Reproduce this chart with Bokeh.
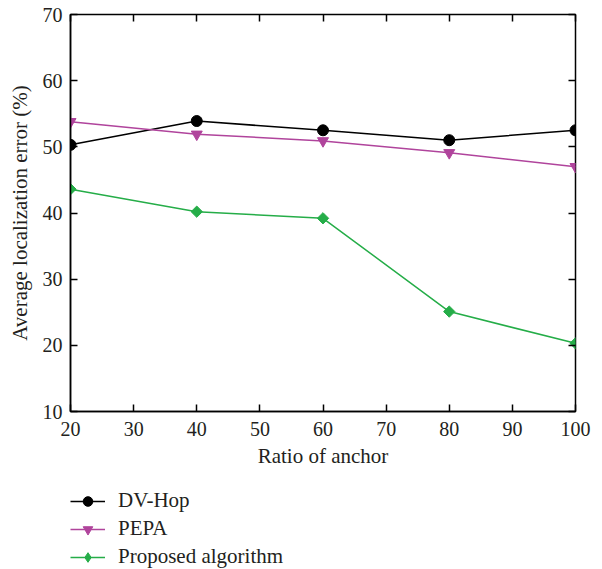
import math
from bokeh.plotting import figure
from bokeh.layouts import column
from bokeh.models import LinearAxis, Legend, LegendItem, Range1d, FixedTicker
from bokeh.embed import file_html
from bokeh.resources import INLINE

# Localization error versus the ratio of anchor nodes
anchor_ratio = [20, 40, 60, 80, 100]
dv_hop = [50.3, 53.9, 52.5, 51.0, 52.5]
pepa = [53.8, 51.9, 50.9, 49.1, 47.0]
proposed = [43.6, 40.2, 39.2, 25.1, 20.3]

x_ticks = [20, 30, 40, 50, 60, 70, 80, 90, 100]
y_ticks = [10, 20, 30, 40, 50, 60, 70]

FONT = "Liberation Serif"
TEXT = "#231f20"
C_DV = "#000000"
C_PEPA = "#b0449c"
C_PROP = "#25ad48"

p = figure(
    width=602, height=470,
    x_range=Range1d(20, 100), y_range=Range1d(10, 70),
    output_backend="svg", toolbar_location=None,
    min_border_left=70, min_border_right=27,
    min_border_top=14, min_border_bottom=59,
    x_axis_label="Ratio of anchor",
    y_axis_label="Average localization error (%)",
)
p.xgrid.visible = False
p.ygrid.visible = False
p.outline_line_color = "black"
p.outline_line_width = 1.5
p.background_fill_color = "white"
p.border_fill_color = "white"

for ax, ticks in ((p.xaxis[0], x_ticks), (p.yaxis[0], y_ticks)):
    ax.ticker = FixedTicker(ticks=ticks)
    ax.axis_line_color = "black"
    ax.axis_line_width = 1.5
    ax.major_tick_in = 7
    ax.major_tick_out = 0
    ax.major_tick_line_width = 1.5
    ax.minor_tick_line_color = None
    ax.major_label_text_font = FONT
    ax.major_label_text_font_size = "20px"
    ax.major_label_text_color = TEXT
    ax.axis_label_text_font = FONT
    ax.axis_label_text_font_size = "21px"
    ax.axis_label_text_font_style = "normal"
    ax.axis_label_text_color = TEXT
p.xaxis[0].major_label_standoff = 10
p.xaxis[0].axis_label_standoff = 5
p.yaxis[0].major_label_standoff = 8
p.yaxis[0].axis_label_standoff = 8

# tick marks on the top and right edges of the box
top = LinearAxis(ticker=FixedTicker(ticks=x_ticks),
                 major_label_overrides={t: "" for t in x_ticks})
right = LinearAxis(ticker=FixedTicker(ticks=y_ticks),
                   major_label_overrides={t: "" for t in y_ticks})
for ax in (top, right):
    ax.axis_line_color = None
    ax.major_tick_in = 7
    ax.major_tick_out = 0
    ax.major_tick_line_width = 1.5
    ax.minor_tick_line_color = None
    ax.major_label_standoff = 0
p.add_layout(top, "above")
p.add_layout(right, "right")

series = [
    ("DV-Hop", dv_hop, C_DV, "circle", 11, 0),
    ("PEPA", pepa, C_PEPA, "inverted_triangle", 11, 0),
    ("Proposed algorithm", proposed, C_PROP, "square", 8, math.pi / 4),
]
for name, vals, color, marker, size, ang in series:
    p.line(anchor_ratio, vals, line_color=color, line_width=1.5)
    p.scatter(anchor_ratio, vals, marker=marker, size=size, angle=ang,
              fill_color=color, line_color=color)

# key panel underneath the axes
key = figure(
    width=602, height=99, x_range=Range1d(0, 1), y_range=Range1d(0, 1),
    output_backend="svg", toolbar_location=None,
    min_border=0, min_border_left=0, min_border_right=0,
    min_border_top=0, min_border_bottom=0, outline_line_color=None,
)
key.axis.visible = False
key.xgrid.visible = False
key.ygrid.visible = False
key_markers = {"circle": ("circle", 11), "inverted_triangle": ("inverted_triangle", 11),
               "square": ("diamond", 13)}
nan = float("nan")
items = []
for name, vals, color, marker, size, ang in series:
    mk, sz = key_markers[marker]
    # one undrawable point so that the key swatch has something to render
    ln = key.line(x=[nan], y=[nan], line_color=color, line_width=1.5)
    sc = key.scatter(x=[nan], y=[nan], marker=mk, size=sz,
                     fill_color=color, line_color=color)
    items.append(LegendItem(label=name, renderers=[ln, sc]))

legend = Legend(
    items=items, location=(0, 0),
    glyph_width=35, glyph_height=24, label_height=24,
    label_standoff=13, spacing=3, padding=0, margin=0,
    border_line_color=None, background_fill_alpha=0,
    label_text_font=FONT, label_text_font_size="21px",
    label_text_color=TEXT,
)
key.add_layout(legend, "center")

open("out.html", "w").write(file_html(column(p, key, spacing=0), INLINE))
